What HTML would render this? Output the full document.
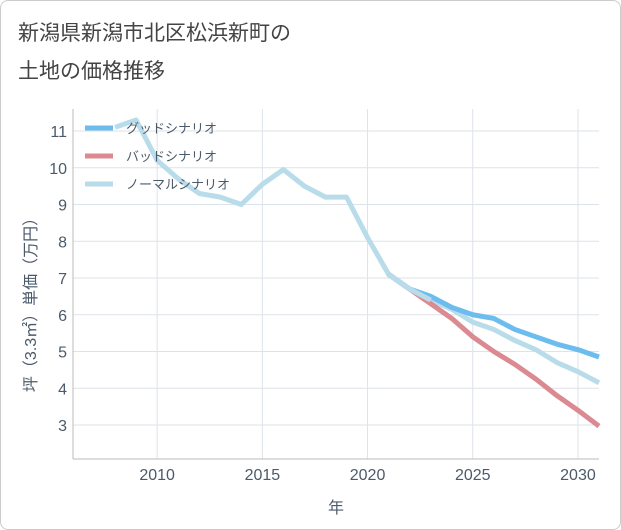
<!DOCTYPE html>
<html><head><meta charset="utf-8"><style>
body{margin:0;background:#fff;}
#wrap{position:relative;width:619px;height:528px;border:1px solid #ccc;border-radius:8px;background:#fff;overflow:hidden;font-family:"Liberation Sans","Noto Sans CJK JP",sans-serif;}
#title{position:absolute;left:17px;top:14px;font-size:21px;line-height:38px;color:#444;}
svg{position:absolute;left:0;top:0;}
</style></head><body>
<div id="wrap">
<div id="title">新潟県新潟市北区松浜新町の<br>土地の価格推移</div>
<svg id="chart" width="621" height="530"></svg>
</div>
<script>
const years=[2008,2009,2010,2011,2012,2013,2014,2015,2016,2017,2018,2019,2020,2021,2022,2023,2024,2025,2026,2027,2028,2029,2030,2031];
const normalVals=[11.1,11.3,10.2,9.7,9.3,9.2,9.0,9.55,9.95,9.5,9.2,9.2,8.1,7.1,6.7,6.4,6.15,5.8,5.6,5.3,5.05,4.7,4.45,4.15];
const futureYears=[2021,2022,2023,2024,2025,2026,2027,2028,2029,2030,2031];
const goodVals=[7.1,6.7,6.5,6.2,6.0,5.9,5.6,5.4,5.2,5.05,4.85];
const badVals=[7.1,6.7,6.3,5.9,5.4,5.0,4.65,4.25,3.8,3.4,2.97];
const xTicks=[2010,2015,2020,2025,2030];
const yTicks=[3,4,5,6,7,8,9,10,11];
const legendLabels=["グッドシナリオ","バッドシナリオ","ノーマルシナリオ"];
const NS="http://www.w3.org/2000/svg";
const svg=document.getElementById('chart');
const TXT='#4b5a6b';
const L=72,R=598,T=108,B=458;
const xS=y=>L+(y-2006)*(R-L)/25;
const yS=v=>130+(11-v)*36.75;
function mk(t,a){const e=document.createElementNS(NS,t);for(const k in a)e.setAttribute(k,a[k]);svg.appendChild(e);return e;}
xTicks.forEach(t=>{const l=mk('line',{x1:xS(t),x2:xS(t),y1:T,y2:B,stroke:'#dde3ea'});


const tx=mk('text',{x:xS(t),y:B+21,'text-anchor':'middle','font-size':16,fill:TXT});tx.textContent=t;

});
yTicks.forEach(t=>{const l=mk('line',{x1:L,x2:R,y1:yS(t),y2:yS(t),stroke:'#dde3ea'});


const tx=mk('text',{x:L-6,y:yS(t)+6,'text-anchor':'end','font-size':16,fill:TXT});tx.textContent=t;

});
const ax=mk('line',{x1:L,x2:L,y1:T,y2:B,stroke:'#bbb'});


const bx=mk('line',{x1:L,x2:R,y1:B,y2:B,stroke:'#bbb'});


function series(xs,vs,col,name){const p=mk('polyline',{points:xs.map((y,i)=>xS(y)+','+yS(vs[i])).join(' '),fill:'none',stroke:col,'stroke-width':5,'stroke-linejoin':'round'});

}
series(years,normalVals,'#b8dcea','normal-scenario-line');
series(futureYears,badVals,'#dc8a92','bad-scenario-line');
series(futureYears,goodVals,'#6cbcee','good-scenario-line');
series(futureYears.slice(0,3),normalVals.slice(13,16),'#b8dcea','normal-scenario-overlap-segment');
const cols=['#6cbcee','#dc8a92','#b8dcea'];
legendLabels.forEach((s,i)=>{const y=127+i*28;
const l=mk('line',{x1:84,x2:112,y1:y,y2:y,stroke:cols[i],'stroke-width':5});


const t=mk('text',{x:125,y:y+5,'font-size':13,fill:TXT});t.textContent=s;

});
const xt=mk('text',{x:335,y:512,'text-anchor':'middle','font-size':16,fill:TXT});xt.textContent='年';


const yt=mk('text',{x:0,y:0,'text-anchor':'middle','font-size':16,fill:TXT,transform:'translate(35,300) rotate(-90)'});yt.textContent='坪（3.3㎡）単価（万円）';


</script>
</body></html>
